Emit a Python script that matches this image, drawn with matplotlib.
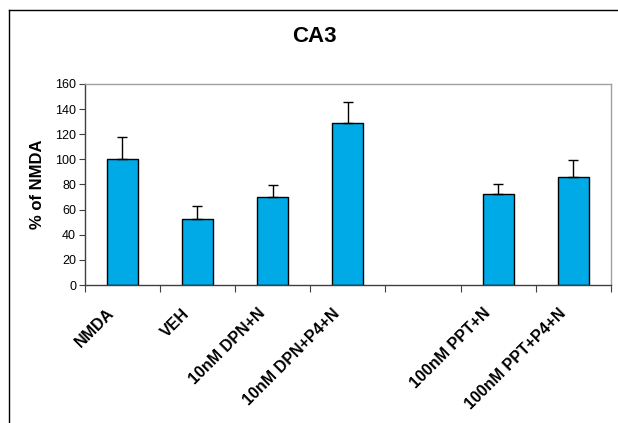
import numpy as np
import matplotlib
matplotlib.use('Agg')
import matplotlib.pyplot as plt
import matplotlib.transforms as mtransforms
from matplotlib.lines import Line2D

plt.rcParams['font.family'] = ['Liberation Sans', 'DejaVu Sans']

categories = ['NMDA', 'VEH', '10nM DPN+N', '10nM DPN+P4+N', '', '100nM PPT+N', '100nM PPT+P4+N']
values = [100, 52.5, 70.3, 128.6, np.nan, 72.3, 85.8]
errors = [17.5, 10.6, 9.5, 17.4, np.nan, 8.2, 14.1]

fig = plt.figure(figsize=(6.18, 4.23), dpi=100)
ax = fig.add_axes([84.5 / 618, 1 - 285 / 423, (611 - 84.5) / 618, (285 - 84) / 423])

x = np.arange(len(categories))
ax.bar(x, values, width=0.41, color='#00AAE6', edgecolor='black', linewidth=1.0, zorder=2)
ax.errorbar(x, values, yerr=[np.zeros(len(errors)), errors], fmt='none',
            ecolor='black', elinewidth=1.0, capsize=3.5, capthick=1.0, zorder=3)

ax.set_xlim(-0.5, len(categories) - 0.5)
ax.set_ylim(0, 160)
ax.set_yticks(range(0, 161, 20))
ax.tick_params(axis='y', labelsize=9, length=4, width=0.8, color='#404040', pad=2)

# labels at bar centres, tick marks on the slot boundaries
ax.set_xticks(x)
ax.set_xticklabels(categories, rotation=45, ha='right', va='center', rotation_mode='anchor',
                   fontsize=11.5, fontweight='bold')
ax.tick_params(axis='x', which='major', length=0, pad=0)
ax.set_xticks(np.arange(-0.5, len(categories)), minor=True)
ax.tick_params(axis='x', which='minor', length=5, width=0.8, color='#404040')
shift = mtransforms.ScaledTranslation(-10 / 100, -26 / 100, fig.dpi_scale_trans)
for lab in ax.get_xticklabels():
    lab.set_transform(lab.get_transform() + shift)

ax.set_ylabel('% of NMDA', fontsize=12, fontweight='bold', labelpad=7)

for s in ['left', 'bottom']:
    ax.spines[s].set_color('#404040')
    ax.spines[s].set_linewidth(1.0)
for s in ['top', 'right']:
    ax.spines[s].set_color('#a0a0a0')
    ax.spines[s].set_linewidth(1.0)

fig.text(314 / 618, 1 - 36 / 423, 'CA3', ha='center', va='center', fontsize=16, fontweight='bold')

# outer chart frame (right and bottom edges fall outside the picture)
fig.add_artist(Line2D([8.5 / 618, 8.5 / 618], [0, 1 - 10 / 423], color='black', lw=1.0))
fig.add_artist(Line2D([8.5 / 618, 1], [1 - 10 / 423, 1 - 10 / 423], color='black', lw=1.0))

fig.savefig('out.png', dpi=100)
